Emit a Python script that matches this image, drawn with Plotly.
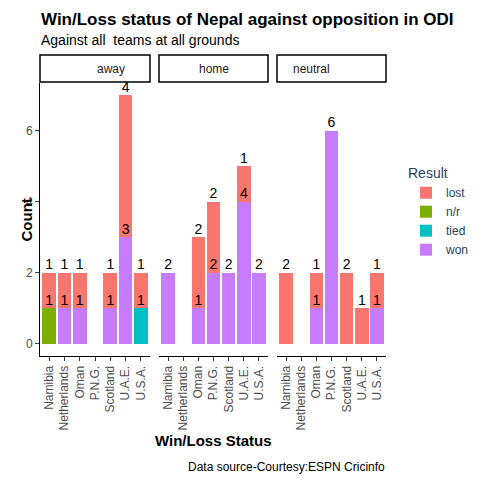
import plotly.graph_objects as go
from plotly.subplots import make_subplots

teams = ["Namibia", "Netherlands", "Oman", "P.N.G.", "Scotland", "U.A.E.", "U.S.A."]
facets = ["away", "home", "neutral"]
results = ["n/r", "tied", "won", "lost"]
colors = {"lost": "#F8766D", "n/r": "#7CAE00", "tied": "#00BFC4", "won": "#C77CFF"}

away_nr =   [1, 0, 0, 0, 0, 0, 0]
away_tied = [0, 0, 0, 0, 0, 0, 1]
away_won =  [0, 1, 1, 0, 1, 3, 0]
away_lost = [1, 1, 1, 0, 1, 4, 1]
home_nr =   [0, 0, 0, 0, 0, 0, 0]
home_tied = [0, 0, 0, 0, 0, 0, 0]
home_won =  [2, 0, 1, 2, 2, 4, 2]
home_lost = [0, 0, 2, 2, 0, 1, 0]
neu_nr =    [0, 0, 0, 0, 0, 0, 0]
neu_tied =  [0, 0, 0, 0, 0, 0, 0]
neu_won =   [0, 0, 1, 6, 0, 0, 1]
neu_lost =  [2, 0, 1, 0, 2, 1, 1]

data = {
    "away": {"n/r": away_nr, "tied": away_tied, "won": away_won, "lost": away_lost},
    "home": {"n/r": home_nr, "tied": home_tied, "won": home_won, "lost": home_lost},
    "neutral": {"n/r": neu_nr, "tied": neu_tied, "won": neu_won, "lost": neu_lost},
}

OFF = 8
def px(x): return (x - OFF) / 480
def py(y): return 1 - (y - OFF) / 480

fig = make_subplots(rows=1, cols=3, shared_yaxes=True)
font = "Liberation Sans, Arial, sans-serif"

for ci, f in enumerate(facets, start=1):
    cum = [0] * len(teams)
    for r in results:
        vals = data[f][r]
        fig.add_trace(go.Bar(x=teams, y=vals, name=r, marker_color=colors[r], marker_line_width=0,
                             width=0.9, legendgroup=r, showlegend=(ci == 1),
                             legendrank={"lost": 1, "n/r": 2, "tied": 3, "won": 4}[r]),
                      row=1, col=ci)
        cum = [c + v for c, v in zip(cum, vals)]
        tx = [t for t, v in zip(teams, vals) if v > 0]
        ty = [c for c, v in zip(cum, vals) if v > 0]
        tt = [str(v) for v in vals if v > 0]
        fig.add_trace(go.Scatter(x=tx, y=ty, mode="text", text=tt, textposition="top center",
                                 textfont=dict(size=14, color="black", family=font),
                                 showlegend=False, hoverinfo="skip", cliponaxis=False),
                      row=1, col=ci)

doms = [(px(40), px(150)), (px(159), px(268)), (px(277), px(386))]
ydom = [py(356), py(83)]
for i, (d, f) in enumerate(zip(doms, facets), start=1):
    fig.update_xaxes(domain=list(d), row=1, col=i, tickangle=-90, showline=True, linecolor="black",
                     ticks="outside", tickcolor="#333", ticklen=4,
                     tickfont=dict(size=12, color="#4D4D4D", family=font),
                     categoryorder="array", categoryarray=teams, range=[-0.6, 6.6])
    fig.add_shape(type="rect", xref="paper", yref="paper", x0=d[0], x1=d[1],
                  y0=py(82), y1=py(55), line=dict(color="black", width=1.5), fillcolor="white")
    fig.add_annotation(x=(d[0]+d[1])/2, y=py(69), xref="paper", yref="paper", yanchor="middle", text=f,
                       showarrow=False, font=dict(size=12, color="#1A1A1A", family=font))
fig.update_yaxes(domain=ydom, range=[-0.35, 7.35], tickvals=[0, 2, 4, 6], showgrid=False, zeroline=False)
fig.update_yaxes(row=1, col=1, showline=True, linecolor="black", ticks="outside", ticklen=4,
                 tickfont=dict(size=12, color="#4D4D4D", family=font))
fig.update_xaxes(showgrid=False)

def ann(x, y, text, size, **kw):
    fig.add_annotation(x=x, y=y, xref="paper", yref="paper", yanchor="middle", text=text,
                       showarrow=False, font=dict(size=size, color="black", family=font), **kw)

ann(px(39), py(19), "<b>Win/Loss status of Nepal against opposition in ODI</b>", 17, xanchor="left")
ann(px(39), py(40), "Against all  teams at all grounds", 14, xanchor="left")
ann(px(213), py(440), "<b>Win/Loss Status</b>", 15)
ann(px(15), py(220), "<b>Count</b>", 15, textangle=-90)
ann(px(387), py(467), "Data source-Courtesy:ESPN Cricinfo", 12, xanchor="right")

fig.update_layout(width=480, height=480, margin=dict(l=0, r=0, t=0, b=0), barmode="stack",
                  plot_bgcolor="white", paper_bgcolor="white",
                  legend=dict(x=px(406), y=py(160), xanchor="left", yanchor="top", traceorder="normal",
                              title=dict(text="Result", font=dict(size=14, family=font)),
                              font=dict(size=12, family=font), itemsizing="constant"))
fig.write_html("out.html")
